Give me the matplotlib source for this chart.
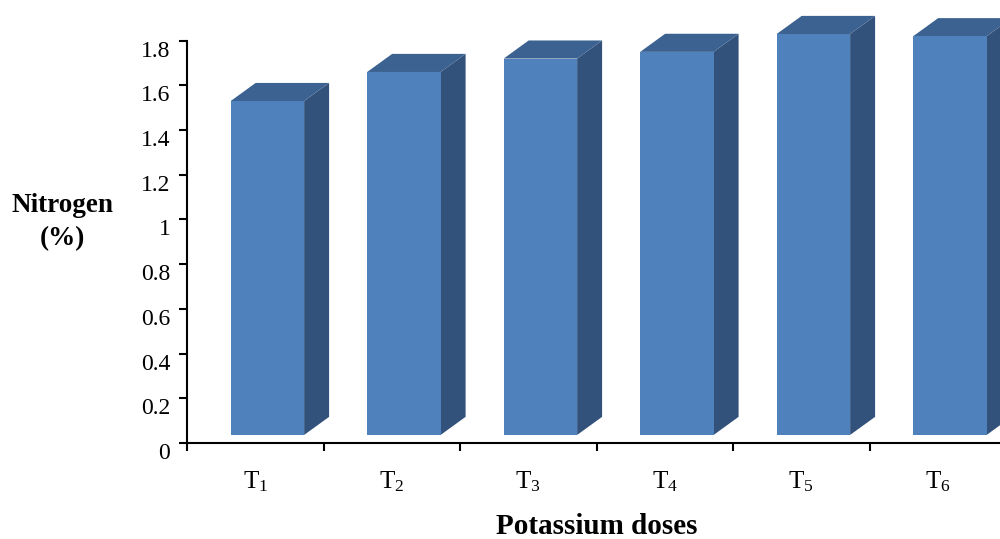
import matplotlib.pyplot as plt
import matplotlib.transforms as mtransforms
from matplotlib.patches import Polygon

# --- data --- #
categories = ['T$_1$', 'T$_2$', 'T$_3$', 'T$_4$', 'T$_5$', 'T$_6$']
nitrogen = [1.53, 1.66, 1.72, 1.75, 1.83, 1.82]
y_ticks = [0, 0.2, 0.4, 0.6, 0.8, 1, 1.2, 1.4, 1.6, 1.8]
y_tick_labels = ['0', '0.2', '0.4', '0.6', '0.8', '1', '1.2', '1.4', '1.6', '1.8']

plt.rcParams['font.family'] = ['Liberation Serif', 'DejaVu Serif']
plt.rcParams['mathtext.default'] = 'regular'

front_col = '#4F81BD'
top_col = '#3B6290'
side_col = '#32527C'

fig = plt.figure(figsize=(10, 5.39), dpi=100)
ax = fig.add_axes([0.187, 0.1781, 0.819, 0.7464])
ax.set_xlim(-0.5, 5.5)
ax.set_ylim(0, 1.8)

# 3d-ish bars (excel style)
floor = 0.036
dx, dy = 0.183, 0.081
for i, v in enumerate(nitrogen):
    x0, x1 = i - 0.18, i + 0.358
    front = Polygon([(x0, floor), (x1, floor), (x1, v), (x0, v)],
                    closed=True, fc=front_col, ec='none', clip_on=False)
    top = Polygon([(x0, v), (x1, v), (x1 + dx, v + dy), (x0 + dx, v + dy)],
                  closed=True, fc=top_col, ec='none', clip_on=False)
    side = Polygon([(x1, floor), (x1 + dx, floor + dy), (x1 + dx, v + dy), (x1, v)],
                   closed=True, fc=side_col, ec='none', clip_on=False)
    for p in (side, top, front):
        ax.add_patch(p)

# axes styling
for s in ['top', 'right']:
    ax.spines[s].set_visible(False)
ax.spines['left'].set_linewidth(1.5)
ax.spines['bottom'].set_linewidth(1.5)

ax.set_yticks(y_ticks)
ax.set_yticklabels(y_tick_labels, fontsize=17)
ax.tick_params(axis='y', direction='out', length=6, width=1.5, pad=6)
# labels sit a little below their ticks in the original
shift = mtransforms.ScaledTranslation(0, -8 / 100, fig.dpi_scale_trans)
for lbl in ax.get_yticklabels():
    lbl.set_transform(lbl.get_transform() + shift)

ax.set_xticks([k - 0.5 for k in range(7)])
ax.set_xticklabels([])
ax.tick_params(axis='x', which='major', direction='out', length=6, width=1.5)
ax.set_xticks(range(6), minor=True)
ax.set_xticklabels(categories, minor=True, fontsize=18)
ax.tick_params(axis='x', which='minor', length=0, pad=19)

fig.text(0.062, 1 - 222 / 539, 'Nitrogen\n(%)', ha='center', va='center',
         fontsize=19.5, fontweight='bold', linespacing=1.4)
fig.text(0.597, 1 - 527 / 539, 'Potassium doses', ha='center', va='center',
         fontsize=21, fontweight='bold')

fig.savefig('out.png', dpi=100)
